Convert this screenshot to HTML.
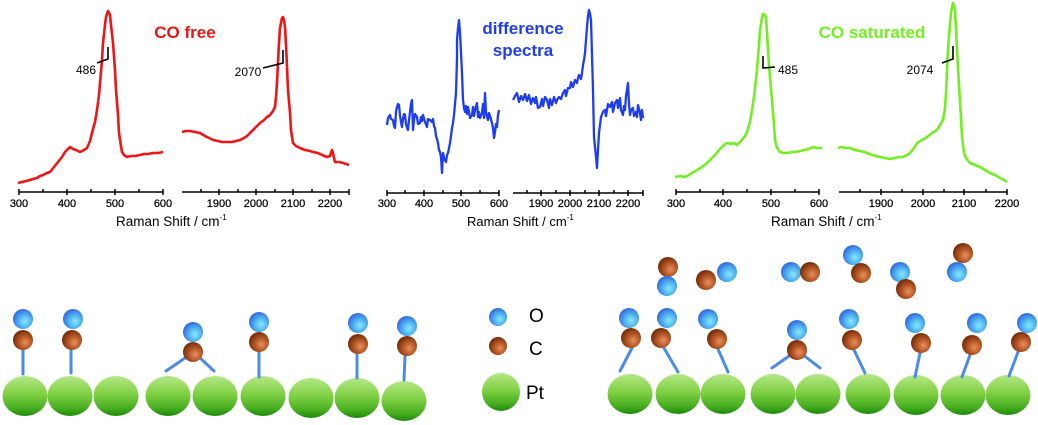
<!DOCTYPE html>
<html><head><meta charset="utf-8"><style>
html,body{margin:0;padding:0;background:#fff;}
svg{display:block;font-family:"Liberation Sans",Arial,sans-serif;}
</style></head><body>
<svg width="1038" height="425" viewBox="0 0 1038 425" xmlns="http://www.w3.org/2000/svg">
<defs>
<radialGradient id="gO" cx="60%" cy="62%" r="60%">
<stop offset="0" stop-color="#8ae8fa"/><stop offset="0.5" stop-color="#52b6f0"/><stop offset="1" stop-color="#3570e0"/>
</radialGradient>
<radialGradient id="gC" cx="62%" cy="62%" r="60%">
<stop offset="0" stop-color="#e89060"/><stop offset="0.5" stop-color="#b85a28"/><stop offset="1" stop-color="#7a300c"/>
</radialGradient>
<linearGradient id="gPt" x1="0" y1="0" x2="0" y2="1">
<stop offset="0" stop-color="#b4e886"/><stop offset="0.45" stop-color="#80d044"/><stop offset="0.8" stop-color="#48ae20"/><stop offset="1" stop-color="#1e8a0a"/>
</linearGradient>
<g id="O"><circle r="10" fill="url(#gO)"/></g>
<g id="C"><circle r="10" fill="url(#gC)"/></g>
<g id="Pt"><ellipse rx="22.5" ry="20" fill="url(#gPt)"/></g>
</defs>

<!-- ================= RED (CO free) ================= -->
<g fill="none" stroke="#f01414" stroke-width="2.6" stroke-linejoin="round">
<polyline points="18,183 22,182 26,181 30,180 33,179 37,178 40,176 43,175 47,173 50,172 54,167 58,162 62,157 65,152 68,149 70,147 73,149 76,150 80,152 84,150 87,148 90,141 92,133 95,122 97,110 99,95 100,83 102,60 103,43 105,25 106,17 108,11 110,15 111,25 113,43 115,70 116,90 118,115 119,133 121,146 122,152 124,155 127,157 131,156 135,156 140,155 144,154 148,154 153,153 158,153 163,152"/>
<polyline points="182,132 186,131 190,131 195,132 200,133 205,136 209,138 213,140 218,141 222,142 227,142 232,142 236,141 240,140 244,138 247,136 250,133 253,130 256,127 260,123 264,120 267,117 270,115 273,111 275,107 276,97 277,83 278,62 279,43 280,28 282,18 283,17 284,20 285,27 286,45 287,67 288,90 290,113 291,130 293,143 296,146 300,148 305,150 310,151 313,152 318,153 322,155 327,157 330,156 332,150 333,153 334,158 335,162 339,162 343,163 346,164 349,165"/>
</g>
<text x="185" y="38" fill="#f01414" font-size="17" font-weight="bold" text-anchor="middle">CO free</text>
<g stroke="#000" stroke-width="1.6" fill="none">
<polyline points="97,63 108,59 108,47"/>
<polyline points="263,68 283,63 283,50"/>
</g>
<text x="86" y="74" font-size="12" text-anchor="middle">486</text>
<text x="248" y="76" font-size="12" text-anchor="middle">2070</text>
<g stroke="#000" stroke-width="1.5">
<line x1="19" y1="192" x2="163" y2="192"/>
<line x1="19" y1="189" x2="19" y2="195"/><line x1="67" y1="189" x2="67" y2="195"/><line x1="115" y1="189" x2="115" y2="195"/><line x1="163" y1="189" x2="163" y2="195"/>
<line x1="43" y1="189" x2="43" y2="192"/><line x1="91" y1="189" x2="91" y2="192"/><line x1="139" y1="189" x2="139" y2="192"/>
<line x1="182" y1="192" x2="349" y2="192"/>
<line x1="219" y1="189" x2="219" y2="195"/><line x1="256" y1="189" x2="256" y2="195"/><line x1="293" y1="189" x2="293" y2="195"/><line x1="330" y1="189" x2="330" y2="195"/>
<line x1="201" y1="189" x2="201" y2="192"/><line x1="238" y1="189" x2="238" y2="192"/><line x1="275" y1="189" x2="275" y2="192"/><line x1="312" y1="189" x2="312" y2="192"/><line x1="349" y1="189" x2="349" y2="195"/>
</g>
<g font-size="11" text-anchor="middle" stroke="#000" stroke-width="0.25">
<text x="19" y="207">300</text><text x="67" y="207">400</text><text x="115" y="207">500</text><text x="163" y="207">600</text>
<text x="219" y="207">1900</text><text x="256" y="207">2000</text><text x="293" y="207">2100</text><text x="330" y="207">2200</text>
</g>
<text x="116" y="226" font-size="13.5">Raman Shift / cm<tspan font-size="8" dy="-6">-1</tspan></text>

<!-- ================= BLUE (difference) ================= -->
<g fill="none" stroke="#1e3cf0" stroke-width="2.3" stroke-linejoin="round">
<polyline points="387,125 388,118 390,115 391,119 393,120 394,126 395,128 396,112 397,107 398,104 399,105 400,115 401,122 402,127 403,119 404,114 405,115 406,124 407,128 408,130 409,120 410,112 411,104 412,100 413,130 414,120 415,114 417,117 418,124 420,123 421,117 422,121 423,115 425,122 427,127 428,119 430,120 432,122 433,119 434,126 435,128 436,136 437,139 438,143 439,150 440,152 441,157 442,173 443,153 444,158 446,162 447,155 448,153 449,148 450,143 451,136 452,128 453,123 454,115 455,104 456,93 457,58 457,40 458,28 459,20 460,33 461,52 462,73 463,100 464,108 465,112 466,106 467,114 468,107 469,112 470,118 472,115 473,107 474,116 475,110 477,103 478,117 479,112 480,118 482,113 483,104 484,118 485,93 486,112 487,117 488,120 489,113 490,116 492,123 493,128 494,138 495,132 496,124 497,127 498,115 499,110"/>
<polyline points="513,100 515,96 517,93 519,102 521,96 523,100 525,94 527,101 529,95 531,104 533,98 535,103 536,97 538,108 540,107 542,99 543,106 545,97 547,100 549,108 550,99 552,105 554,97 556,103 557,100 559,97 561,99 563,93 565,90 566,96 568,88 570,88 571,82 573,87 575,80 577,83 578,78 579,75 581,79 582,73 583,65 584,60 585,53 586,40 587,27 588,16 589,10 590,14 591,20 592,55 593,90 594,137 595,147 596,157 597,168 598,150 599,133 600,125 601,117 603,112 605,110 606,116 608,104 610,107 612,102 613,112 615,103 617,100 618,108 620,98 621,110 623,115 624,106 625,110 626,96 627,90 628,83 629,104 630,115 631,110 633,108 634,116 636,112 637,117 638,105 640,113 641,120 642,110 643,118"/>
</g>
<text x="523" y="34" fill="#1e3cf0" font-size="17" font-weight="bold" text-anchor="middle">difference</text>
<text x="523" y="56" fill="#1e3cf0" font-size="17" font-weight="bold" text-anchor="middle">spectra</text>
<g stroke="#000" stroke-width="1.5">
<line x1="387" y1="193" x2="499" y2="193"/>
<line x1="387" y1="190" x2="387" y2="196"/><line x1="424" y1="190" x2="424" y2="196"/><line x1="461" y1="190" x2="461" y2="196"/><line x1="499" y1="190" x2="499" y2="196"/>
<line x1="405" y1="190" x2="405" y2="193"/><line x1="443" y1="190" x2="443" y2="193"/><line x1="480" y1="190" x2="480" y2="193"/>
<line x1="513" y1="193" x2="643" y2="193"/>
<line x1="541" y1="190" x2="541" y2="196"/><line x1="570" y1="190" x2="570" y2="196"/><line x1="599" y1="190" x2="599" y2="196"/><line x1="628" y1="190" x2="628" y2="196"/>
<line x1="527" y1="190" x2="527" y2="193"/><line x1="556" y1="190" x2="556" y2="193"/><line x1="585" y1="190" x2="585" y2="193"/><line x1="614" y1="190" x2="614" y2="193"/><line x1="643" y1="190" x2="643" y2="196"/>
</g>
<g font-size="11" text-anchor="middle" stroke="#000" stroke-width="0.25">
<text x="387" y="207">300</text><text x="424" y="207">400</text><text x="461" y="207">500</text><text x="499" y="207">600</text>
<text x="541" y="207">1900</text><text x="570" y="207">2000</text><text x="599" y="207">2100</text><text x="628" y="207">2200</text>
</g>
<text x="467" y="226" font-size="13">Raman Shift / cm<tspan font-size="8" dy="-6">-1</tspan></text>

<!-- ================= GREEN (CO saturated) ================= -->
<g fill="none" stroke="#72ee22" stroke-width="2.6" stroke-linejoin="round">
<polyline points="675,177 680,176 684,177 687,176 692,173 697,170 702,167 707,163 711,159 715,155 719,150 722,147 725,144 727,143 731,144 734,143 737,145 740,142 742,140 745,136 747,132 750,122 752,110 754,97 757,70 759,45 760,30 762,18 763,14 765,15 766,18 767,32 768,50 770,78 772,100 774,125 775,140 777,148 780,152 784,153 787,153 792,152 796,152 800,151 805,150 809,149 813,147 817,148 822,148"/>
<polyline points="838,148 842,147 846,148 850,148 855,150 860,151 864,152 867,153 872,155 876,156 880,157 885,158 890,159 895,158 899,157 903,157 907,155 910,153 914,148 917,143 922,140 927,137 932,133 937,130 940,125 943,120 945,108 946,93 947,70 948,50 950,25 951,13 952,7 953,3 954,6 955,10 956,28 957,50 959,85 961,117 962,137 964,153 966,158 970,163 975,165 980,167 985,170 990,173 995,175 1000,178 1004,180 1007,182"/>
</g>
<text x="872" y="38" fill="#72ee22" font-size="17" font-weight="bold" text-anchor="middle">CO saturated</text>
<g stroke="#000" stroke-width="1.6" fill="none">
<polyline points="763,56 763,68 775,67"/>
<polyline points="942,63 953,59 953,46"/>
</g>
<text x="788" y="74" font-size="12" text-anchor="middle">485</text>
<text x="920" y="74" font-size="12" text-anchor="middle">2074</text>
<g stroke="#000" stroke-width="1.5">
<line x1="676" y1="192" x2="819" y2="192"/>
<line x1="676" y1="189" x2="676" y2="195"/><line x1="723" y1="189" x2="723" y2="195"/><line x1="771" y1="189" x2="771" y2="195"/><line x1="819" y1="189" x2="819" y2="195"/>
<line x1="700" y1="189" x2="700" y2="192"/><line x1="747" y1="189" x2="747" y2="192"/><line x1="795" y1="189" x2="795" y2="192"/>
<line x1="839" y1="192" x2="1007" y2="192"/>
<line x1="881" y1="189" x2="881" y2="195"/><line x1="923" y1="189" x2="923" y2="195"/><line x1="964" y1="189" x2="964" y2="195"/><line x1="1007" y1="189" x2="1007" y2="195"/>
<line x1="860" y1="189" x2="860" y2="192"/><line x1="902" y1="189" x2="902" y2="192"/><line x1="944" y1="189" x2="944" y2="192"/><line x1="986" y1="189" x2="986" y2="192"/>
</g>
<g font-size="11" text-anchor="middle" stroke="#000" stroke-width="0.25">
<text x="676" y="207">300</text><text x="723" y="207">400</text><text x="771" y="207">500</text><text x="819" y="207">600</text>
<text x="881" y="207">1900</text><text x="923" y="207">2000</text><text x="964" y="207">2100</text><text x="1007" y="207">2200</text>
</g>
<text x="771" y="226" font-size="13.5">Raman Shift / cm<tspan font-size="8" dy="-6">-1</tspan></text>

<!-- ================= BOTTOM LEFT ================= -->
<g>
<use href="#Pt" x="25" y="396"/><use href="#Pt" x="70" y="396"/><use href="#Pt" x="116" y="396"/>
<use href="#Pt" x="168" y="396"/><use href="#Pt" x="215" y="396"/><use href="#Pt" x="263" y="396"/>
<use href="#Pt" x="311" y="398"/><use href="#Pt" x="357" y="398"/><use href="#Pt" x="404" y="401"/>
</g>
<g stroke="#4a8ae8" stroke-width="3" stroke-linecap="round">
<line x1="23" y1="350" x2="23" y2="374"/>
<line x1="71" y1="350" x2="71" y2="373"/>
<line x1="188" y1="356" x2="166" y2="371"/><line x1="198" y1="356" x2="214" y2="371"/>
<line x1="259" y1="352" x2="259" y2="377"/>
<line x1="357" y1="353" x2="357" y2="378"/>
<line x1="405" y1="356" x2="404" y2="380"/>
</g>
<g>
<use href="#C" x="23" y="340"/><use href="#O" x="23" y="319"/>
<use href="#C" x="72" y="340"/><use href="#O" x="73" y="319"/>
<use href="#C" x="193" y="352"/><use href="#O" x="193" y="332"/>
<use href="#C" x="259" y="342"/><use href="#O" x="259" y="322"/>
<use href="#C" x="358" y="344"/><use href="#O" x="358" y="323"/>
<use href="#C" x="407" y="346"/><use href="#O" x="407" y="326"/>
</g>

<!-- legend -->
<g>
<circle cx="498" cy="317" r="9" fill="url(#gO)"/>
<circle cx="498" cy="346" r="9" fill="url(#gC)"/>
<ellipse cx="501" cy="392" rx="19" ry="19" fill="url(#gPt)"/>
</g>
<g font-size="19">
<text x="529" y="322">O</text>
<text x="529" y="355">C</text>
<text x="526" y="399">Pt</text>
</g>

<!-- ================= BOTTOM RIGHT ================= -->
<g>
<use href="#Pt" x="630" y="394"/><use href="#Pt" x="678" y="394"/><use href="#Pt" x="723" y="394"/>
<use href="#Pt" x="773" y="394"/><use href="#Pt" x="818" y="394"/><use href="#Pt" x="868" y="394"/>
<use href="#Pt" x="916" y="395"/><use href="#Pt" x="963" y="395"/><use href="#Pt" x="1008" y="395"/>
</g>
<g stroke="#4a8ae8" stroke-width="3" stroke-linecap="round">
<line x1="632" y1="348" x2="620" y2="371"/>
<line x1="664" y1="348" x2="678" y2="372"/>
<line x1="718" y1="349" x2="728" y2="372"/>
<line x1="792" y1="354" x2="772" y2="368"/><line x1="802" y1="354" x2="820" y2="368"/>
<line x1="854" y1="350" x2="865" y2="373"/>
<line x1="920" y1="353" x2="915" y2="377"/>
<line x1="970" y1="355" x2="962" y2="377"/>
<line x1="1018" y1="352" x2="1009" y2="376"/>
</g>
<g>
<use href="#C" x="631" y="338"/><use href="#O" x="629" y="318"/>
<use href="#C" x="661" y="338"/><use href="#O" x="667" y="318"/>
<use href="#C" x="717" y="339"/><use href="#O" x="708" y="319"/>
<use href="#C" x="797" y="350"/><use href="#O" x="797" y="330"/>
<use href="#C" x="852" y="340"/><use href="#O" x="849" y="319"/>
<use href="#C" x="921" y="343"/><use href="#O" x="915" y="323"/>
<use href="#C" x="972" y="345"/><use href="#O" x="977" y="323"/>
<use href="#C" x="1021" y="342"/><use href="#O" x="1027" y="323"/>
<use href="#C" x="668" y="267"/><use href="#O" x="667" y="286"/>
<use href="#C" x="706" y="280"/><use href="#O" x="727" y="272"/>
<use href="#O" x="791" y="272"/><use href="#C" x="810" y="272"/>
<use href="#O" x="853" y="255"/><use href="#C" x="861" y="273"/>
<use href="#O" x="900" y="272"/><use href="#C" x="906" y="289"/>
<use href="#C" x="963" y="253"/><use href="#O" x="957" y="272"/>
</g>
</svg>
</body></html>
